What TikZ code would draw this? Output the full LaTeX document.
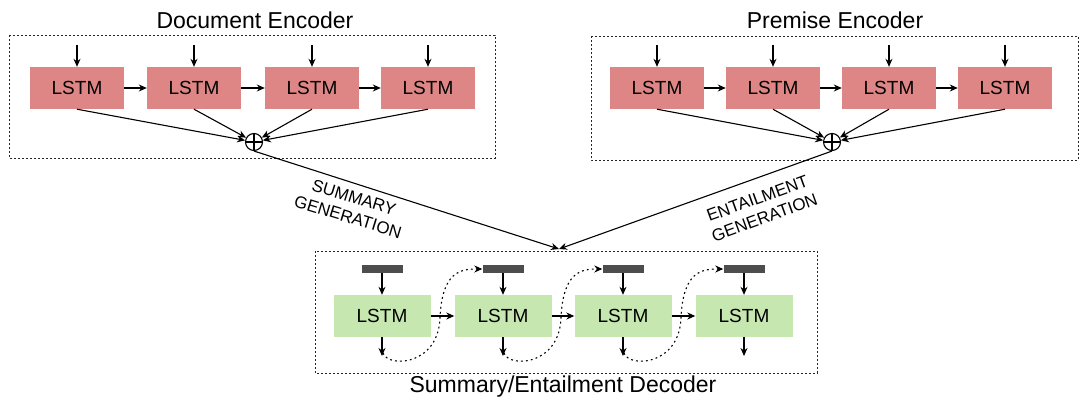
\documentclass[tikz,border=0pt]{standalone}
\usepackage{fontspec}
\setmainfont{Liberation Sans}
\usetikzlibrary{arrows.meta}
\definecolor{encred}{RGB}{222,134,134}
\definecolor{decgreen}{RGB}{198,232,176}
\definecolor{bardark}{RGB}{77,77,77}
\begin{document}
\begin{tikzpicture}[x=1pt,y=-1pt,
  >={Stealth[length=8pt,width=7pt]},
  conn/.style={line width=1.1pt,->},
  frame/.style={draw=black!85,line width=0.8pt,dash pattern=on 2pt off 2pt},
  enc/.style={fill=encred,minimum width=94pt,minimum height=42pt,inner sep=0pt,font=\fontsize{19}{22}\selectfont},
  dec/.style={fill=decgreen,minimum width=97pt,minimum height=42pt,inner sep=0pt,font=\fontsize{19}{22}\selectfont},
  tok/.style={fill=bardark,minimum width=41pt,minimum height=8pt,inner sep=0pt},
  title/.style={font=\fontsize{23}{26}\selectfont},
  lbl/.style={font=\fontsize{17}{20.5}\selectfont,align=center,inner sep=0pt},
  plus/.style={circle,draw,line width=1.1pt,minimum size=17pt,inner sep=0pt},
  feed/.style={line width=1.1pt,dash pattern=on 1.8pt off 3.2pt,->}]
\useasboundingbox (0,0) rectangle (1086,401);

% ---------- Document encoder ----------
\draw[frame] (9,35) rectangle (495,158);
\node[title] (tdoc) at (255,20) {Document Encoder};
\foreach \i/\x in {1/77,2/194,3/312,4/428}{
  \node[enc] (d\i) at (\x,88) {LSTM};
  \coordinate (di\i) at (\x,45);
  \draw[conn] (di\i) -- (d\i.north);
}
\foreach \a/\b in {1/2,2/3,3/4}{\draw[conn] (d\a) -- (d\b);}
\node[plus] (pd) at (254,142) {};
\draw[line width=1.1pt] (pd.north) -- (pd.south) (pd.west) -- (pd.east);
\foreach \i in {1,2,3,4}{\draw[conn] (d\i.south) -- (pd);}

% ---------- Premise encoder ----------
\draw[frame] (591,36) rectangle (1078,160);
\node[title] (tprem) at (835,20) {Premise Encoder};
\foreach \i/\x in {1/657,2/773,3/889,4/1005}{
  \node[enc] (p\i) at (\x,88) {LSTM};
  \coordinate (pi\i) at (\x,45);
  \draw[conn] (pi\i) -- (p\i.north);
}
\foreach \a/\b in {1/2,2/3,3/4}{\draw[conn] (p\a) -- (p\b);}
\node[plus] (pp) at (832,142) {};
\draw[line width=1.1pt] (pp.north) -- (pp.south) (pp.west) -- (pp.east);
\foreach \i in {1,2,3,4}{\draw[conn] (p\i.south) -- (pp);}

% ---------- Decoder ----------
\draw[frame] (315,251) rectangle (817,373);
\node[title] (tdec) at (563,387) {Summary/Entailment Decoder};
\coordinate (target) at (559,249);
\draw[conn] (pd.south) -- (target);
\draw[conn] (pp.south) -- (target);
\node[lbl,rotate=-17] (ls) at (351,207) {SUMMARY\\GENERATION};
\node[lbl,rotate=20] (le) at (761,208) {ENTAILMENT\\GENERATION};

\foreach \i/\x in {1/382,2/503,3/623,4/744}{
  \node[dec] (g\i) at (\x,316) {LSTM};
  \node[tok] (b\i) at (\x,269) {};
  \draw[conn] (b\i.south) -- (g\i.north);
  \coordinate (o\i) at (\x,356);
  \draw[conn] (g\i.south) -- (o\i);
}
\foreach \a/\b in {1/2,2/3,3/4}{\draw[conn] (g\a) -- (g\b);}
\foreach \a/\b/\x in {1/2/382,2/3/503,3/4/623}{
  \draw[feed] (\x+1,353) .. controls (\x+6,368) and (\x+56,366) .. (\x+58,318)
     .. controls (\x+60,272) and (\x+78,269) .. (b\b.west);
}
\end{tikzpicture}
\end{document}
